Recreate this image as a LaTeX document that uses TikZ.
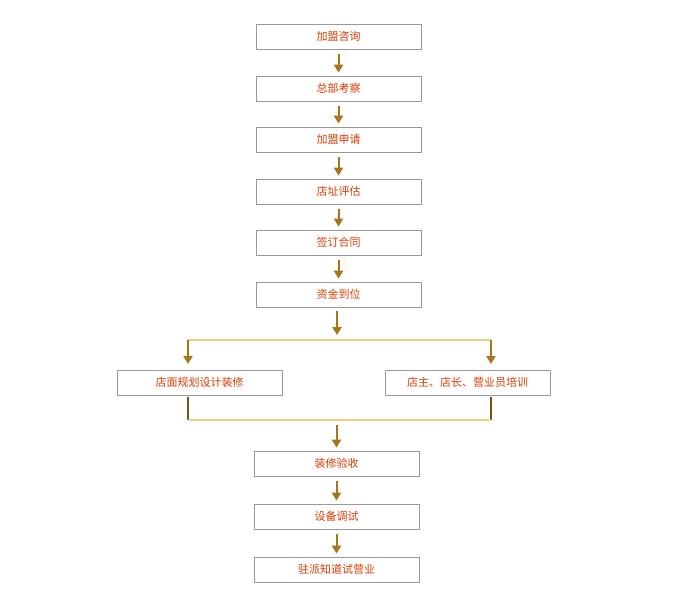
\documentclass[tikz,border=0pt]{standalone}
\usepackage{fontspec}
\newfontfamily\cjk{Noto Sans CJK SC}
\usetikzlibrary{arrows.meta}
\definecolor{txt}{HTML}{E03A00}
\definecolor{arr}{HTML}{A8741C}
\definecolor{ln}{HTML}{F0D080}
\begin{document}
\begin{tikzpicture}[x=1pt,y=-1pt,
  box/.style={draw=black!40,line width=0.8pt,minimum width=165pt,minimum height=25pt,inner sep=0pt,text=txt,font=\cjk\fontsize{11}{13}\selectfont},
  ar/.style={draw=arr,line width=2pt,-{Triangle[width=9pt,length=8pt]}},
  conn/.style={draw=ln,line width=2pt}]
\useasboundingbox (0,0) rectangle (674,613);
\node[box] (a) at (338.5,36.5) {加盟咨询};
\node[box] (b) at (338.5,88.5) {总部考察};
\node[box] (c) at (338.5,139.5) {加盟申请};
\node[box] (d) at (338.5,191.5) {店址评估};
\node[box] (e) at (338.5,242.5) {签订合同};
\node[box] (f) at (338.5,294.5) {资金到位};
\node[box] (l) at (199.5,382.5) {店面规划设计装修};
\node[box] (r) at (467.5,382.5) {店主、店长、营业员培训};
\node[box] (g) at (336.5,463.5) {装修验收};
\node[box] (h) at (336.5,516.5) {设备调试};
\node[box] (i) at (336.5,569.5) {驻派知道试营业};
\foreach \u/\v in {a/b,b/c,c/d,d/e,e/f,g/h,h/i}
  \draw[ar,shorten <=5pt,shorten >=3pt] (\u) -- (\v);
\coordinate (fa) at (337,311);
\coordinate (fb) at (337,335);
\draw[ar] (fa) -- (fb);
\coordinate (hl) at (188,340);
\coordinate (hr) at (491,340);
\draw[conn] (hl) -- (hr);
\draw[ar] (hl) -- (188,364);
\draw[ar] (hr) -- (491,364);
\coordinate (bl) at (188,420);
\coordinate (br) at (491,420);
\draw[draw=arr!70!black,line width=2pt] (188,397) -- (bl);
\draw[draw=arr!70!black,line width=2pt] (491,397) -- (br);
\draw[conn] (bl) -- (br);
\coordinate (ga) at (336.5,425);
\draw[ar,shorten >=3pt] (ga) -- (g.north);
\end{tikzpicture}
\end{document}
